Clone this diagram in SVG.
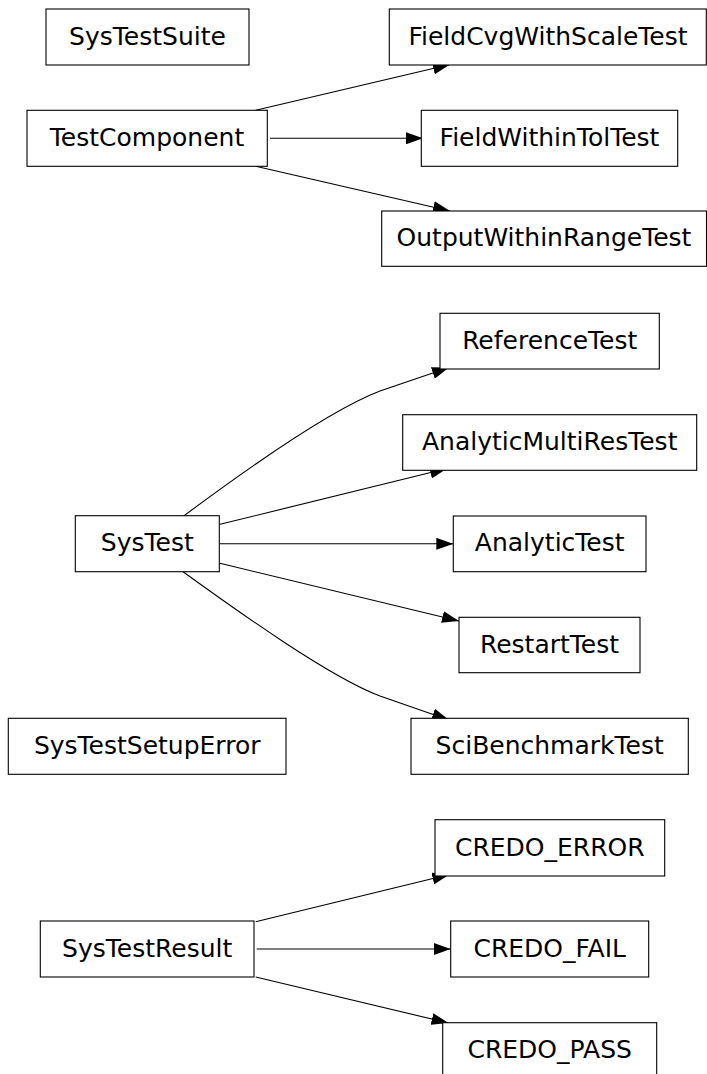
<svg xmlns="http://www.w3.org/2000/svg" width="707" height="1074" viewBox="0 0 707 1074">
<style>
  .box { fill: #ffffff; stroke: #000000; stroke-width: 1.1; }
  .lbl { font-family: "DejaVu Sans", "Liberation Sans", sans-serif; font-size: 25px; fill: #000000; text-anchor: middle; }
  .edge { fill: none; stroke: #000000; stroke-width: 1.1; marker-end: url(#arrow); }
</style>
<defs>
  <marker id="arrow" markerUnits="userSpaceOnUse" markerWidth="17" markerHeight="12" viewBox="0 0 17 12" refX="17" refY="6" orient="auto">
    <path d="M0,0 L17,6 L0,12 z" fill="#000000"/>
  </marker>
</defs>
<rect x="0" y="0" width="707" height="1074" fill="#ffffff"/>

<g id="connectors">
  <path class="edge" d="M255.7,110.3 L450,64.5"/>
  <path class="edge" d="M270,138.3 L423,138.3"/>
  <path class="edge" d="M255.7,166.3 L450,211"/>
  <path class="edge" d="M182.7,516.7 C240,474 330,410 380,391 L449,367.5"/>
  <path class="edge" d="M220,524.3 L447,468.5"/>
  <path class="edge" d="M220,543.8 L453.3,543.8"/>
  <path class="edge" d="M220,563.3 L459,621"/>
  <path class="edge" d="M182.7,571.5 C240,613 330,677 380,696 L449,720"/>
  <path class="edge" d="M255.7,921.7 L449.3,874.5"/>
  <path class="edge" d="M256.7,949 L450.7,949"/>
  <path class="edge" d="M255.7,977 L448.5,1023"/>
</g>

<g id="SysTestSuite">
  <rect class="box" x="46" y="9" width="203" height="56"/>
  <text class="lbl" x="147.5" y="44.5">SysTestSuite</text>
</g>
<g id="TestComponent">
  <rect class="box" x="27" y="110.3" width="240.3" height="56"/>
  <text class="lbl" x="147" y="145.8">TestComponent</text>
</g>
<g id="FieldCvgWithScaleTest">
  <rect class="box" x="389.3" y="9" width="317" height="56"/>
  <text class="lbl" x="548" y="44.5">FieldCvgWithScaleTest</text>
</g>
<g id="FieldWithinTolTest">
  <rect class="box" x="421.3" y="110.3" width="256.4" height="56"/>
  <text class="lbl" x="549.5" y="145.8">FieldWithinTolTest</text>
</g>
<g id="OutputWithinRangeTest">
  <rect class="box" x="381.7" y="211" width="324.8" height="55.3"/>
  <text class="lbl" x="544" y="246.2">OutputWithinRangeTest</text>
</g>
<g id="ReferenceTest">
  <rect class="box" x="440" y="313.3" width="219.3" height="55.7"/>
  <text class="lbl" x="549.7" y="348.7">ReferenceTest</text>
</g>
<g id="AnalyticMultiResTest">
  <rect class="box" x="402.7" y="414.7" width="294" height="55.6"/>
  <text class="lbl" x="549.7" y="450">AnalyticMultiResTest</text>
</g>
<g id="AnalyticTest">
  <rect class="box" x="453.3" y="516" width="192.7" height="55.7"/>
  <text class="lbl" x="549.7" y="551.3">AnalyticTest</text>
</g>
<g id="SysTest">
  <rect class="box" x="75.3" y="515.7" width="144" height="56"/>
  <text class="lbl" x="147.3" y="551.2">SysTest</text>
</g>
<g id="RestartTest">
  <rect class="box" x="459" y="617.3" width="181" height="55.4"/>
  <text class="lbl" x="549.5" y="652.5">RestartTest</text>
</g>
<g id="SciBenchmarkTest">
  <rect class="box" x="411" y="718.3" width="277.3" height="56"/>
  <text class="lbl" x="549.7" y="753.8">SciBenchmarkTest</text>
</g>
<g id="SysTestSetupError">
  <rect class="box" x="8.3" y="718.3" width="277.7" height="56"/>
  <text class="lbl" x="147.2" y="753.8">SysTestSetupError</text>
</g>
<g id="CREDO_ERROR">
  <rect class="box" x="435" y="819.7" width="229.7" height="56.3"/>
  <text class="lbl" x="549.8" y="855.5">CREDO_ERROR</text>
</g>
<g id="SysTestResult">
  <rect class="box" x="40.3" y="921" width="213.7" height="56"/>
  <text class="lbl" x="147.2" y="956.5">SysTestResult</text>
</g>
<g id="CREDO_FAIL">
  <rect class="box" x="450.7" y="921" width="198" height="56"/>
  <text class="lbl" x="549.7" y="956.5">CREDO_FAIL</text>
</g>
<g id="CREDO_PASS">
  <rect class="box" x="442.7" y="1022.7" width="214" height="56"/>
  <text class="lbl" x="549.7" y="1058">CREDO_PASS</text>
</g>
</svg>
